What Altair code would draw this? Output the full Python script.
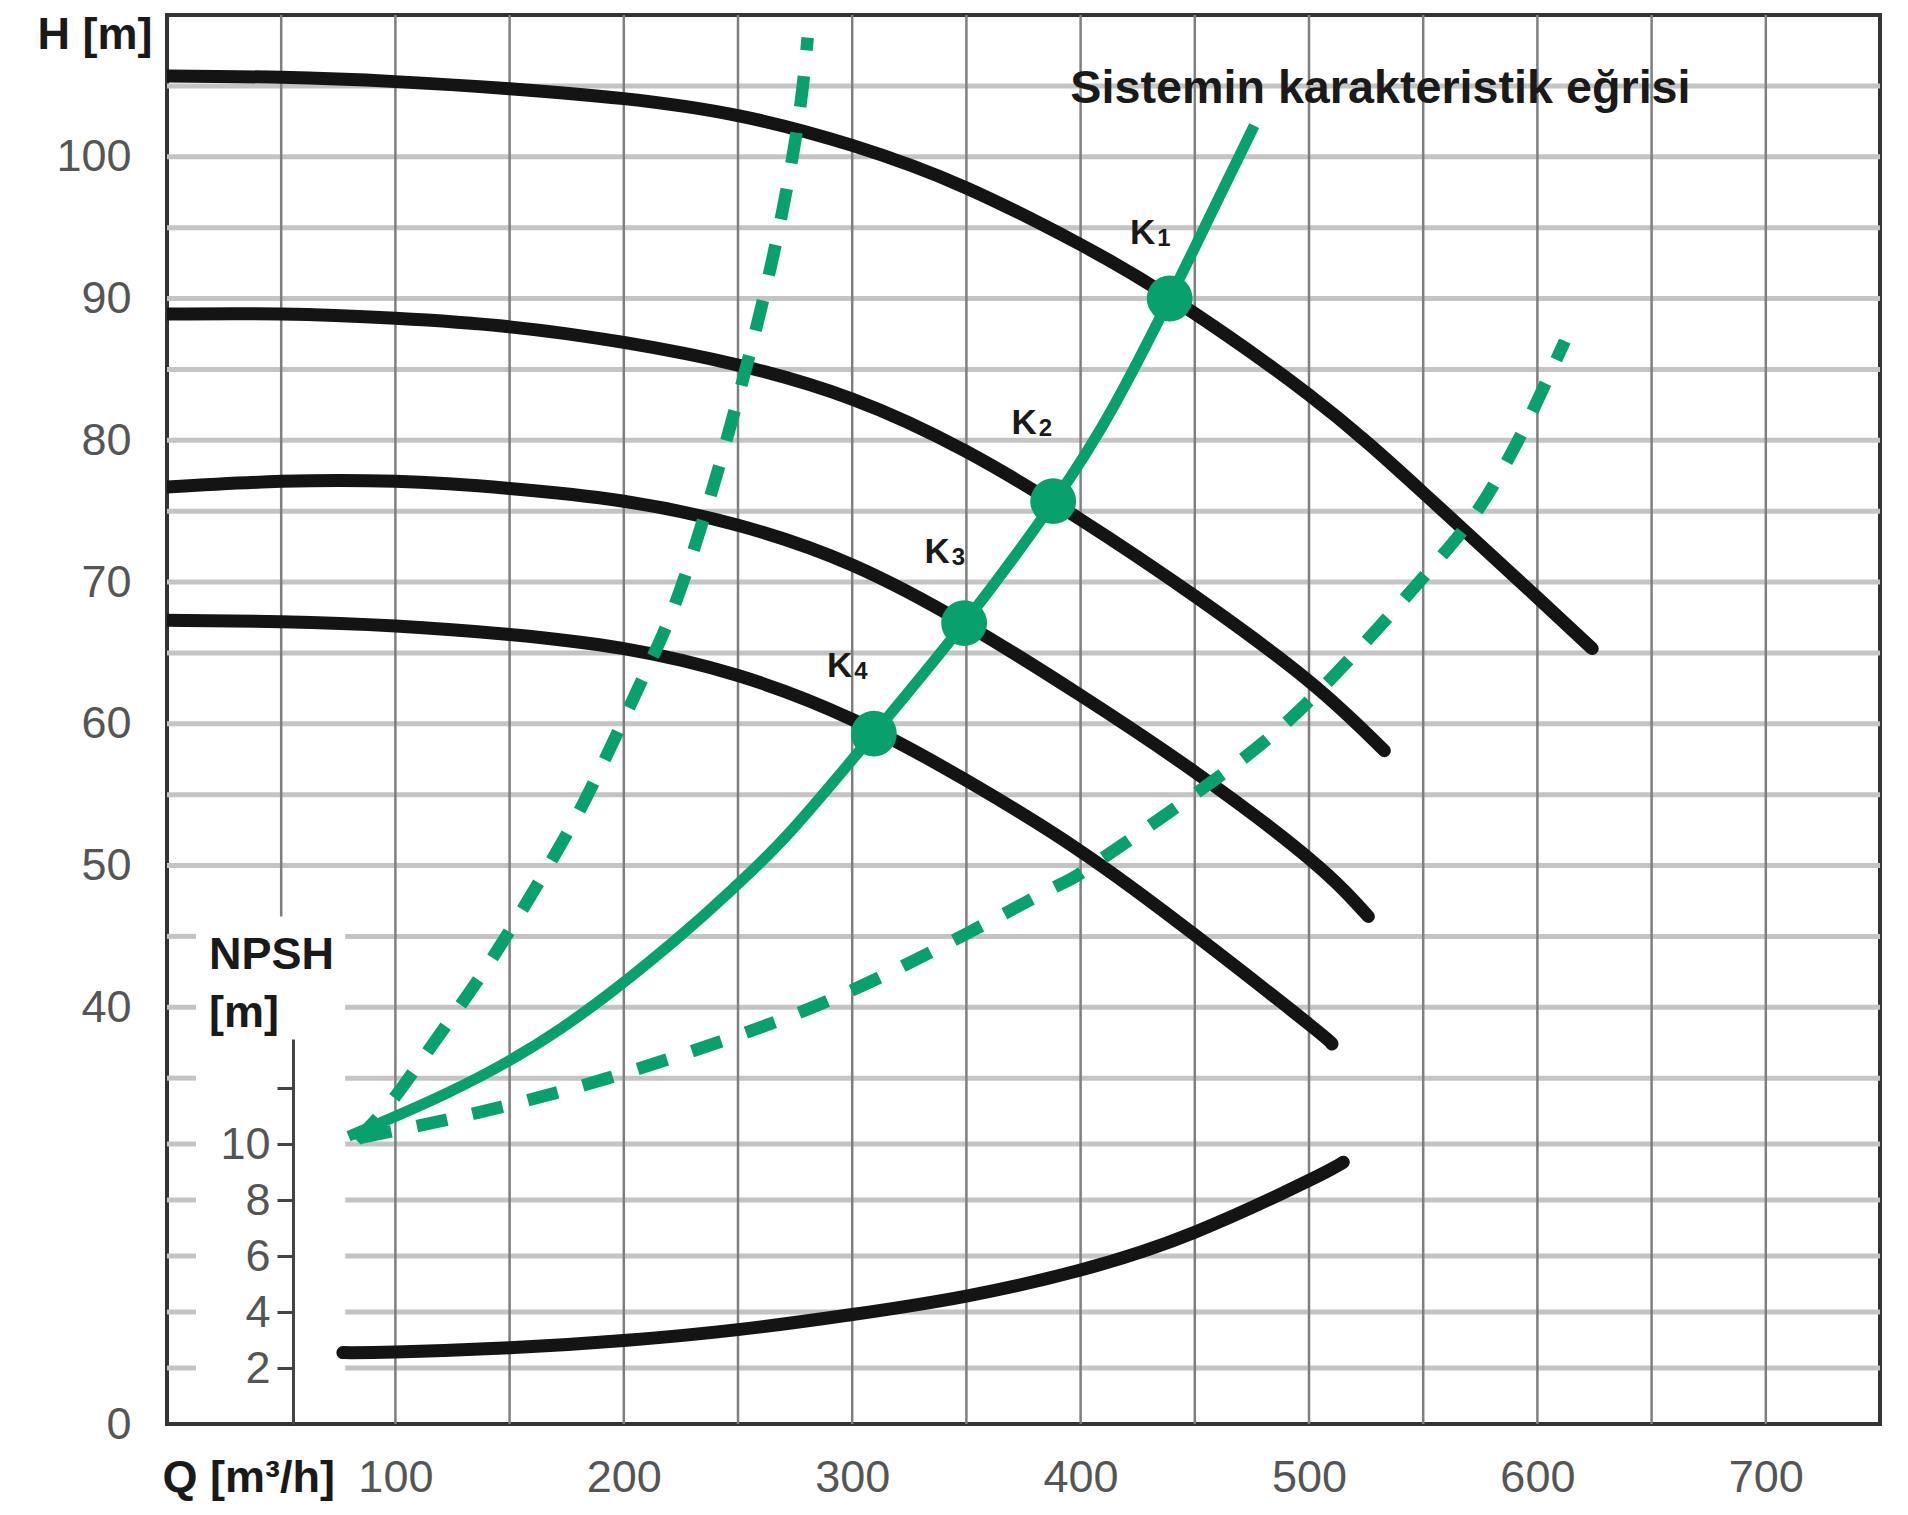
import altair as alt
import pandas as pd

# ---------------- data ----------------
q_grid_full = [100, 150, 200, 250, 300, 350, 400, 450, 500, 550, 600, 650, 700]
q_grid_partial = [50]
q_partial_h_from = [46.4]
q_partial_h_to = [110]

h_grid_full = [50, 55, 60, 65, 70, 75, 80, 85, 90, 95, 100, 105]
h_grid_split = [35, 40, 45]
npsh_grid = [2, 4, 6, 8, 10]
seg_q_from = [0, 78]
seg_q_to = [12.7, 750]

curve1_q = [0, 50, 100, 150, 200, 250, 300, 350, 400, 440, 500, 550, 600, 624]
curve1_h = [105.7, 105.6, 105.3, 104.8, 104.1, 102.9, 100.8, 97.8, 93.8, 90.0, 83.2, 76.3, 68.9, 65.3]

curve2_q = [0, 50, 100, 150, 200, 250, 300, 350, 400, 450, 500, 533]
curve2_h = [88.9, 88.9, 88.6, 88.0, 86.9, 85.3, 82.9, 79.2, 74.4, 69.0, 63.0, 58.1]

curve3_q = [0, 50, 100, 150, 200, 250, 300, 350, 400, 450, 500, 526]
curve3_h = [76.7, 77.1, 77.1, 76.6, 75.7, 74.0, 71.2, 67.0, 62.0, 56.6, 50.5, 46.4]

curve4_q = [0, 50, 100, 150, 200, 250, 300, 350, 400, 450, 500, 510]
curve4_h = [67.3, 67.2, 66.9, 66.3, 65.3, 63.4, 60.3, 56.0, 51.0, 45.1, 38.8, 37.4]

system_q = [79.5, 122, 172.5, 223, 248, 273, 309.5, 349, 388, 414.5, 439, 456, 476]
system_h = [30.9, 33.9, 38.5, 44.8, 48.4, 52.4, 59.3, 67.1, 75.6, 82.4, 90.0, 95.6, 102.2]

steep_q = [83, 97, 112, 129.6, 147.3, 172.5, 190, 210, 222.8, 237.8, 253, 265.5, 275.7, 280.5]
steep_h = [30.6, 33.1, 36.4, 40.4, 44.7, 51.5, 56.9, 63.8, 68.6, 76.0, 84.8, 93.1, 101.8, 108.4]

flat_q = [85, 97, 137, 193, 248, 293, 343, 389, 405, 460, 505, 552, 574, 587, 598, 612]
flat_h = [30.8, 31.2, 32.6, 35.0, 37.9, 40.7, 44.6, 48.5, 50.0, 56.2, 62.4, 70.7, 75.1, 78.6, 82.1, 87.0]

npsh_q = [77, 100, 150, 200, 250, 300, 350, 400, 450, 500, 515]
npsh_v = [2.55, 2.57, 2.72, 2.98, 3.37, 3.91, 4.57, 5.5, 6.85, 8.7, 9.35]

k_q = [439, 388, 349, 309.5]
k_h = [90.0, 75.7, 67.1, 59.3]
k_main = ["K", "K", "K", "K"]
k_sub = ["1", "2", "3", "4"]
k_label_q = [432.7, 380.8, 342.7, 300.0]
k_label_h = [94.6, 81.2, 72.1, 64.1]

sys_label = ["Sistemin karakteristik eğrisi"]
sys_label_q = [395.5]
sys_label_h = [104.8]

npsh_label = ["NPSH", "[m]"]
npsh_label_q = [18.4, 18.4]
npsh_label_h = [43.7, 39.6]

x_tick_values = [100, 200, 300, 400, 500, 600, 700]
h_tick_values = [0, 40, 50, 60, 70, 80, 90, 100]
npsh_tick_values = [2, 4, 6, 8, 10, 12]

# ---------------- styling ----------------
W, HT = 1713, 1409
FONT = "Liberation Sans"
GREEN = "#08a06c"
BLACK = "#141414"
LABEL = "#555555"
TITLE = "#1a1a1a"
INTERP = "natural"

xscale = alt.Scale(domain=[0, 750], nice=False, zero=False)
yH = alt.Scale(domain=[0, 30, 110], range=[HT, 1134, 0], nice=False, zero=False)
yN = alt.Scale(domain=[0, 13.75], range=[HT, 1024], nice=False, zero=False)

xaxis = alt.Axis(values=x_tick_values, title="Q [m³/h]", grid=False, domain=False,
                 ticks=False, tickSize=0, labelPadding=53, labelBaseline="middle",
                 labelFontSize=45, labelColor=LABEL, labelFont=FONT, labelFlush=False,
                 labelOverlap=False,
                 titleX=-5, titleY=53, titleAlign="left", titleBaseline="middle",
                 titleFontSize=45, titleFontWeight="bold", titleColor=TITLE, titleFont=FONT)

yaxis = alt.Axis(values=h_tick_values, title="H [m]", grid=False, domain=False,
                 ticks=False, tickSize=0, labelPadding=36, labelFontSize=45,
                 labelColor=LABEL, labelFont=FONT, labelFlush=False, labelOverlap=False,
                 titleAngle=0, titleX=-15, titleY=19, titleAlign="right",
                 titleBaseline="middle", titleFontSize=45, titleFontWeight="bold",
                 titleColor=TITLE, titleFont=FONT)

npshaxis = alt.Axis(values=npsh_tick_values, labelExpr="datum.value == 12 ? '' : datum.label",
                    orient="left", offset=-126, title=None, grid=False, domain=True,
                    domainColor="#444444", domainWidth=3, ticks=True, tickSize=16,
                    tickColor="#444444", tickWidth=3, labelPadding=7, labelFontSize=45,
                    labelColor=LABEL, labelFont=FONT, labelFlush=False, labelOverlap=False)


def X(f):
    return alt.X(f, type="quantitative", scale=xscale, axis=xaxis)


def YH(f, axis=True):
    return alt.Y(f, type="quantitative", scale=yH, axis=yaxis if axis else None)


def YN(f, axis=True):
    return alt.Y(f, type="quantitative", scale=yN, axis=npshaxis if axis else None)


HGRID = dict(color="#c4c4c4", strokeWidth=5)
VGRID = dict(color="#7f7f7f", strokeWidth=2.5)

# ---------------- group A: H horizontal gridlines ----------------
df_hfull = pd.DataFrame({"h": h_grid_full})
df_hsplit = pd.DataFrame([{"h": h, "q1": a, "q2": b}
                          for h in h_grid_split for a, b in zip(seg_q_from, seg_q_to)])
gA = alt.layer(
    alt.Chart(df_hfull).mark_rule(**HGRID).encode(y=YH("h", False)),
    alt.Chart(df_hsplit).mark_rule(**HGRID).encode(x=X("q1"), x2="q2", y=YH("h", False)),
)

# ---------------- group B: NPSH horizontal gridlines ----------------
df_nsplit = pd.DataFrame([{"n": n, "q1": a, "q2": b}
                          for n in npsh_grid for a, b in zip(seg_q_from, seg_q_to)])
gB = alt.layer(
    alt.Chart(df_nsplit).mark_rule(**HGRID).encode(x=X("q1"), x2="q2", y=YN("n", False)),
)

# ---------------- group C: verticals + H curves ----------------
df_vfull = pd.DataFrame({"q": q_grid_full})
df_vpart = pd.DataFrame({"q": q_grid_partial, "h1": q_partial_h_from, "h2": q_partial_h_to})


def curve_df(qs, hs):
    return pd.DataFrame({"q": qs, "h": hs})


black_curves = []
for qs, hs in [(curve1_q, curve1_h), (curve2_q, curve2_h), (curve3_q, curve3_h), (curve4_q, curve4_h)]:
    black_curves.append(
        alt.Chart(curve_df(qs, hs)).mark_line(color=BLACK, strokeWidth=13, interpolate=INTERP,
                                              strokeCap="round", strokeJoin="round", clip=True)
        .encode(x=X("q"), y=YH("h"), order="q:Q")
    )

dash_curves = []
for qs, hs in [(steep_q, steep_h), (flat_q, flat_h)]:
    dash_curves.append(
        alt.Chart(curve_df(qs, hs)).mark_line(color=GREEN, strokeWidth=12.5, interpolate=INTERP,
                                              strokeDash=[31, 26], strokeCap="butt")
        .encode(x=X("q"), y=YH("h"), order="q:Q")
    )

system_line = alt.Chart(curve_df(system_q, system_h)).mark_line(
    color=GREEN, strokeWidth=11, interpolate=INTERP, strokeCap="butt", strokeJoin="round"
).encode(x=X("q"), y=YH("h"), order="q:Q")

df_k = pd.DataFrame({"q": k_q, "h": k_h})
k_dots = alt.Chart(df_k).mark_circle(color=GREEN, size=2100, opacity=1).encode(x=X("q"), y=YH("h"))

df_kl = pd.DataFrame({"q": k_label_q, "h": k_label_h, "m": k_main, "s": k_sub})
k_text = alt.Chart(df_kl).mark_text(align="right", baseline="middle", fontSize=35,
                                    fontWeight="bold", color=TITLE, font=FONT).encode(
    x=X("q"), y=YH("h"), text="m:N")
k_subtext = alt.Chart(df_kl).mark_text(align="left", baseline="middle", fontSize=24, dx=2, dy=6,
                                       fontWeight="bold", color=TITLE, font=FONT).encode(
    x=X("q"), y=YH("h"), text="s:N")

df_sys = pd.DataFrame({"q": sys_label_q, "h": sys_label_h, "t": sys_label})
sys_text = alt.Chart(df_sys).mark_text(align="left", baseline="middle", fontSize=46.7,
                                       fontWeight="bold", color=TITLE, font=FONT).encode(
    x=X("q"), y=YH("h"), text="t:N")

df_nl = pd.DataFrame({"q": npsh_label_q, "h": npsh_label_h, "t": npsh_label})
npsh_text = alt.Chart(df_nl).mark_text(align="left", baseline="middle", fontSize=45,
                                       fontWeight="bold", color=TITLE, font=FONT).encode(
    x=X("q"), y=YH("h"), text="t:N")

gC = alt.layer(
    alt.Chart(df_vfull).mark_rule(**VGRID).encode(x=X("q")),
    alt.Chart(df_vpart).mark_rule(**VGRID).encode(x=X("q"), y=YH("h1"), y2="h2"),
    *black_curves,
    *dash_curves,
    system_line,
    k_dots,
    k_text,
    k_subtext,
    sys_text,
    npsh_text,
)

# ---------------- group D: NPSH curve ----------------
df_npsh = pd.DataFrame({"q": npsh_q, "n": npsh_v})
gD = alt.layer(
    alt.Chart(df_npsh).mark_line(color=BLACK, strokeWidth=13, interpolate=INTERP,
                                 strokeCap="round", strokeJoin="round")
    .encode(x=X("q"), y=YN("n"), order="q:Q"),
)

chart = (
    alt.layer(gA, gB, gC, gD)
    .resolve_scale(y="independent")
    .properties(
        width=W, height=HT,
        padding={"left": 159, "top": 7, "right": 20, "bottom": 83},
        autosize=alt.AutoSizeParams(type="none"),
        background="white",
    )
    .configure_view(stroke="#333333", strokeWidth=4, fill="white")
)

chart.save("out.html", embed_options={"renderer": "svg", "actions": False})
